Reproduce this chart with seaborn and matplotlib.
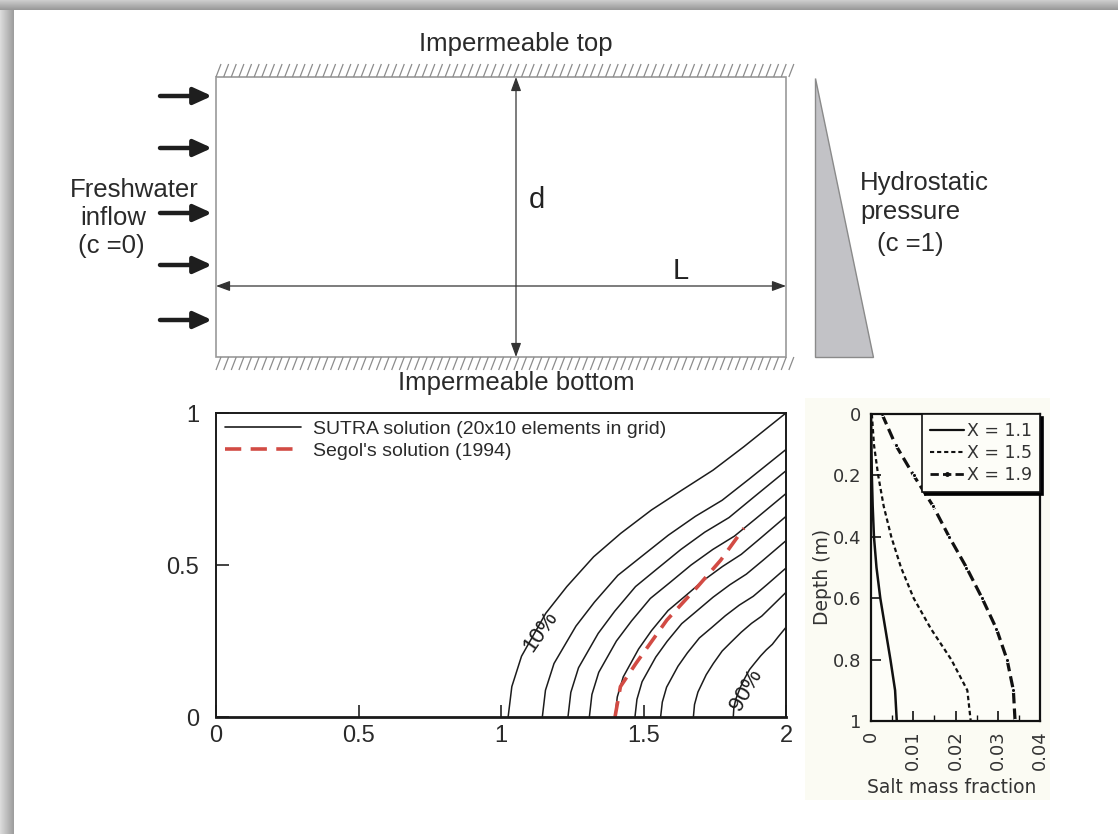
import numpy as np
import matplotlib
matplotlib.use("Agg")
import matplotlib.pyplot as plt
from matplotlib.patches import Rectangle, Polygon
from matplotlib.lines import Line2D
from matplotlib.collections import LineCollection
import seaborn as sns

sns.set_theme(style="white")
plt.rcParams["font.family"] = ["Liberation Sans", "DejaVu Sans"]

# ---------------- data ----------------
# Iso-concentration lines of the SUTRA solution (x, y pairs, dimensionless domain 2 x 1)
iso10_x = [1.025, 1.038, 1.072, 1.157, 1.231, 1.325, 1.420, 1.528, 1.636, 1.744, 1.852, 2.000]
iso10_y = [0.000, 0.100, 0.200, 0.341, 0.429, 0.527, 0.604, 0.681, 0.747, 0.812, 0.889, 1.000]
iso20_x = [1.145, 1.156, 1.186, 1.263, 1.328, 1.410, 1.493, 1.587, 1.682, 1.776, 1.871, 2.000]
iso20_y = [0.000, 0.088, 0.176, 0.299, 0.378, 0.466, 0.528, 0.598, 0.660, 0.713, 0.783, 0.880]
iso30_x = [1.235, 1.245, 1.272, 1.341, 1.399, 1.472, 1.546, 1.631, 1.715, 1.800, 1.884, 2.000]
iso30_y = [0.000, 0.081, 0.162, 0.275, 0.348, 0.429, 0.486, 0.551, 0.608, 0.656, 0.721, 0.810]
iso40_x = [1.310, 1.319, 1.343, 1.405, 1.458, 1.524, 1.591, 1.667, 1.743, 1.819, 1.896, 2.000]
iso40_y = [0.000, 0.074, 0.147, 0.250, 0.316, 0.390, 0.441, 0.500, 0.551, 0.595, 0.654, 0.735]
iso50_x = [1.400, 1.408, 1.429, 1.483, 1.528, 1.586, 1.644, 1.710, 1.777, 1.843, 1.909, 2.000]
iso50_y = [0.000, 0.066, 0.132, 0.224, 0.284, 0.350, 0.396, 0.449, 0.495, 0.535, 0.587, 0.660]
iso60_x = [1.470, 1.477, 1.495, 1.543, 1.583, 1.634, 1.686, 1.744, 1.803, 1.861, 1.920, 2.000]
iso60_y = [0.000, 0.058, 0.116, 0.197, 0.249, 0.307, 0.348, 0.394, 0.435, 0.470, 0.516, 0.580]
iso70_x = [1.560, 1.566, 1.581, 1.621, 1.654, 1.696, 1.739, 1.787, 1.836, 1.885, 1.934, 2.000]
iso70_y = [0.000, 0.049, 0.098, 0.167, 0.211, 0.260, 0.294, 0.333, 0.368, 0.397, 0.436, 0.490]
iso80_x = [1.675, 1.679, 1.691, 1.720, 1.745, 1.776, 1.807, 1.843, 1.879, 1.915, 1.951, 2.000]
iso80_y = [0.000, 0.041, 0.082, 0.139, 0.176, 0.217, 0.246, 0.279, 0.308, 0.332, 0.365, 0.410]
iso90_x = [1.815, 1.817, 1.824, 1.841, 1.855, 1.872, 1.890, 1.911, 1.931, 1.952, 1.972, 2.000]
iso90_y = [0.000, 0.030, 0.059, 0.100, 0.127, 0.156, 0.177, 0.201, 0.221, 0.239, 0.263, 0.295]

# Segol's (1994) analytical 50% isochlor
segol_x = [1.400, 1.419, 1.474, 1.582, 1.690, 1.771, 1.852]
segol_y = [0.000, 0.100, 0.177, 0.319, 0.429, 0.516, 0.621]

# Vertical salt-mass-fraction profiles
depth = [0.0, 0.1, 0.2, 0.3, 0.4, 0.5, 0.6, 0.7, 0.8, 0.9, 1.0]
salt_x11 = [0.0000, 0.0001, 0.0002, 0.0004, 0.0007, 0.0013, 0.0022, 0.0034, 0.0046, 0.0057, 0.0061]
salt_x15 = [0.0002, 0.0007, 0.0017, 0.0030, 0.0048, 0.0071, 0.0101, 0.0142, 0.0190, 0.0228, 0.0236]
salt_x19 = [0.0026, 0.0058, 0.0101, 0.0147, 0.0185, 0.0226, 0.0263, 0.0297, 0.0322, 0.0337, 0.0341]
profile_labels = ["X = 1.1", "X = 1.5", "X = 1.9"]

iso_labels = ["10%", "90%"]
contour_ticks_x = [0, 0.5, 1, 1.5, 2]
contour_ticks_y = [0, 0.5, 1]
profile_ticks_x = [0, 0.01, 0.02, 0.03, 0.04]
profile_ticks_y = [0, 0.2, 0.4, 0.6, 0.8, 1]

# ---------------- figure ----------------
W, H = 1118, 834
fig = plt.figure(figsize=(W / 100, H / 100), dpi=100)
fig.patch.set_facecolor("white")

# shaded frame along the top and left edges
bg = fig.add_axes([0, 0, 1, 1], zorder=-10)
img = np.ones((H, W, 3))
left_w, top_h = 14, 10
img[:, :left_w, :] = np.linspace(0.86, 0.62, left_w)[None, :, None]
img[:top_h, :, :] = np.linspace(0.80, 0.60, top_h)[:, None, None]
bg.imshow(img, aspect="auto", extent=(0, W, H, 0), interpolation="bilinear")
bg.set_xlim(0, W)
bg.set_ylim(H, 0)
bg.axis("off")

# soft cream panel behind the profile plot
fig.patches.append(Rectangle((805 / W, 1 - 800 / H), 245 / W, 402 / H,
                             transform=fig.transFigure, facecolor="#fbfbf3",
                             edgecolor="none", zorder=-5))

def px_axes(left, top, right, bottom, **kw):
    return fig.add_axes([left / W, 1 - bottom / H, (right - left) / W, (bottom - top) / H], **kw)

# ---------------- schematic of the Henry problem ----------------
ax0 = px_axes(14, 12, W, 400)
ax0.set_facecolor("none")
sx, sy = 285.0, 280.0           # pixels per unit length
ax0.set_xlim(-(216 - 14) / sx, (W - 216) / sx)
ax0.set_ylim(-(400 - 357) / sy, (357 - 12) / sy)
ax0.axis("off")

edge = "#9a9a9a"
ax0.add_patch(Rectangle((0, 0), 2, 1, fill=False, edgecolor=edge, lw=1.2))

# hatching of the impermeable boundaries
hx = np.arange(0.0, 2.02, 0.0268)
hh = 13 / sy
lean = 5 / sx
top_seg = [[(x, 1.0), (x + lean, 1.0 + hh)] for x in hx]
bot_seg = [[(x, -hh), (x + lean, 0.0)] for x in hx]
ax0.add_collection(LineCollection(top_seg, colors="#8c8c8c", lw=0.9))
ax0.add_collection(LineCollection(bot_seg, colors="#8c8c8c", lw=0.9))

# dimension arrows
xd = (516 - 216) / sx
yl = (357 - 286) / sy
dim_props = dict(arrowstyle="<|-|>,head_length=0.6,head_width=0.22", color="#333333",
                 lw=0.9, mutation_scale=14, shrinkA=0, shrinkB=0)
ax0.annotate("", xy=(xd, 1.0), xytext=(xd, 0.0), arrowprops=dim_props)
ax0.annotate("", xy=(2.0, yl), xytext=(0.0, yl), arrowprops=dim_props)
ax0.text((537 - 216) / sx, (357 - 200) / sy, "d", fontsize=21, ha="center", va="center", color="#222222")
ax0.text((681 - 216) / sx, (357 - 271) / sy, "L", fontsize=21, ha="center", va="center", color="#222222")

# freshwater inflow arrows
for ypx in [96, 148, 213, 265, 320]:
    yy = (357 - ypx) / sy
    ax0.annotate("", xy=(-4 / sx, yy), xytext=(-56 / sx, yy),
                 arrowprops=dict(arrowstyle="-|>,head_length=0.55,head_width=0.25",
                                 color="#1e1e1e", lw=3.2, mutation_scale=20,
                                 shrinkA=0, shrinkB=0))

txt = dict(fontsize=18.5, color="#2a2a2a", va="center")
ax0.text(1.053, (357 - 44) / sy, "Impermeable top", ha="center", **txt)
ax0.text(1.053, (357 - 383) / sy, "Impermeable bottom", ha="center", **txt)
ax0.text((70 - 216) / sx, (357 - 190) / sy, "Freshwater", ha="left", **txt)
ax0.text((80 - 216) / sx, (357 - 218) / sy, "inflow", ha="left", **txt)
ax0.text((78 - 216) / sx, (357 - 246) / sy, "(c =0)", ha="left", **txt)

# hydrostatic pressure triangle
ax0.add_patch(Polygon([((815 - 216) / sx, (357 - 78) / sy), ((815 - 216) / sx, 0.0),
                       ((873 - 216) / sx, 0.0)], closed=True,
                      facecolor="#c2c2c6", edgecolor="#8a8a8a", lw=1.0))
ax0.text((860 - 216) / sx, (357 - 183) / sy, "Hydrostatic", ha="left", **txt)
ax0.text((860 - 216) / sx, (357 - 212) / sy, "pressure", ha="left", **txt)
ax0.text((877 - 216) / sx, (357 - 244) / sy, "(c =1)", ha="left", **txt)

# ---------------- isochlor plot ----------------
ax1 = px_axes(216, 413, 786, 717)
ax1.set_facecolor("white")
iso_x = [iso10_x, iso20_x, iso30_x, iso40_x, iso50_x, iso60_x, iso70_x, iso80_x, iso90_x]
iso_y = [iso10_y, iso20_y, iso30_y, iso40_y, iso50_y, iso60_y, iso70_y, iso80_y, iso90_y]
for xs, ys in zip(iso_x, iso_y):
    sns.lineplot(x=xs, y=ys, sort=False, estimator=None, color="#1c1c1c", lw=1.1, ax=ax1)
sns.lineplot(x=segol_x, y=segol_y, sort=False, estimator=None, color="#d24b44",
             lw=2.6, ax=ax1, dashes=False, linestyle=(0, (4.5, 2.6)))

ax1.text(1.14, 0.28, iso_labels[0], rotation=55, fontsize=16, ha="center", va="center", color="#1c1c1c")
ax1.text(1.86, 0.09, iso_labels[1], rotation=60, fontsize=16, ha="center", va="center", color="#1c1c1c")

ax1.set_xlim(0, 2)
ax1.set_ylim(0, 1)
ax1.set_xticks(contour_ticks_x)
ax1.set_xticklabels(["0", "0.5", "1", "1.5", "2"])
ax1.set_yticks(contour_ticks_y)
ax1.set_yticklabels(["0", "0.5", "1"])
ax1.tick_params(direction="in", length=9, width=1.2, color="#222222", labelsize=17,
                labelcolor="#2a2a2a", left=True, bottom=True)
ax1.tick_params(axis="y", pad=12)
ax1.tick_params(axis="x", pad=6)
for s in ax1.spines.values():
    s.set_color("#1a1a1a")
    s.set_linewidth(1.4)
ax1.spines["bottom"].set_linewidth(2.0)
ax1.set_xlabel("")
ax1.set_ylabel("")

leg1 = ax1.legend(handles=[Line2D([], [], color="#1c1c1c", lw=1.2),
                           Line2D([], [], color="#d24b44", lw=2.6, linestyle=(0, (4.5, 2.6)))],
                  labels=["SUTRA solution (20x10 elements in grid)", "Segol's solution (1994)"],
                  loc="upper left", bbox_to_anchor=(0.016, 0.975), borderaxespad=0, borderpad=0,
                  frameon=False, fontsize=14, handlelength=3.9, handletextpad=0.6,
                  labelspacing=0.2)
for t in leg1.get_texts():
    t.set_color("#2a2a2a")

# ---------------- salt profiles ----------------
ax2 = px_axes(871, 414, 1040, 721)
ax2.set_facecolor("#fdfdf8")
sns.lineplot(x=salt_x11, y=depth, orient="y", color="#111111", lw=1.8, ax=ax2)
sns.lineplot(x=salt_x15, y=depth, orient="y", color="#111111", lw=1.6, ax=ax2,
             linestyle=(0, (2.0, 1.4)))
sns.lineplot(x=salt_x19, y=depth, orient="y", color="#111111", lw=2.3, ax=ax2,
             linestyle=(0, (3.5, 1.6)), marker="o", markersize=3)

ax2.set_xlim(0, 0.04)
ax2.set_ylim(1, 0)
ax2.set_xticks(profile_ticks_x)
ax2.set_xticklabels(["0", "0.01", "0.02", "0.03", "0.04"], rotation=90)
ax2.set_xticks([0.005, 0.015, 0.025, 0.035], minor=True)
ax2.set_yticks(profile_ticks_y)
ax2.set_yticklabels(["0", "0.2", "0.4", "0.6", "0.8", "1"])
tick_font = ["DejaVu Sans"]
ax2.tick_params(which="major", direction="in", length=7, width=1.2, color="#111111",
                labelsize=13, labelcolor="#333333", left=True, bottom=True)
ax2.tick_params(axis="x", which="major", pad=7)
ax2.tick_params(axis="y", which="major", pad=7)
ax2.tick_params(which="minor", direction="in", length=4, width=1.0, color="#111111", bottom=True)
for lab in ax2.get_xticklabels() + ax2.get_yticklabels():
    lab.set_family(tick_font)
for s in ax2.spines.values():
    s.set_color("#111111")
    s.set_linewidth(1.6)
ax2.set_xlabel("Salt mass fraction", fontsize=13.5, color="#333333", family=tick_font)
ax2.set_ylabel("Depth (m)", fontsize=13.5, color="#333333", family=tick_font)
ax2.xaxis.set_label_coords(0.48, -0.185)
ax2.yaxis.set_label_coords(-0.23, 0.47)

leg2 = ax2.legend(handles=[Line2D([], [], color="#111111", lw=1.6),
                           Line2D([], [], color="#111111", lw=1.5, linestyle=(0, (2.0, 1.4))),
                           Line2D([], [], color="#111111", lw=2.0, linestyle=(0, (3.0, 1.5)),
                                  marker="o", markersize=2.5)],
                  labels=profile_labels, loc="upper right", borderaxespad=0,
                  fancybox=False, frameon=True,
                  prop={"family": tick_font, "size": 12.5},
                  handlelength=2.0, handletextpad=0.15, borderpad=0.45, labelspacing=0.25,
                  shadow={"facecolor": "black", "edgecolor": "black", "alpha": 1.0})
leg2.get_frame().set_edgecolor("#111111")
leg2.get_frame().set_linewidth(1.2)
leg2.get_frame().set_facecolor("#fdfdf8")
leg2.get_frame().set_alpha(1.0)
for t in leg2.get_texts():
    t.set_color("#333333")

fig.savefig("out.png", dpi=100)
